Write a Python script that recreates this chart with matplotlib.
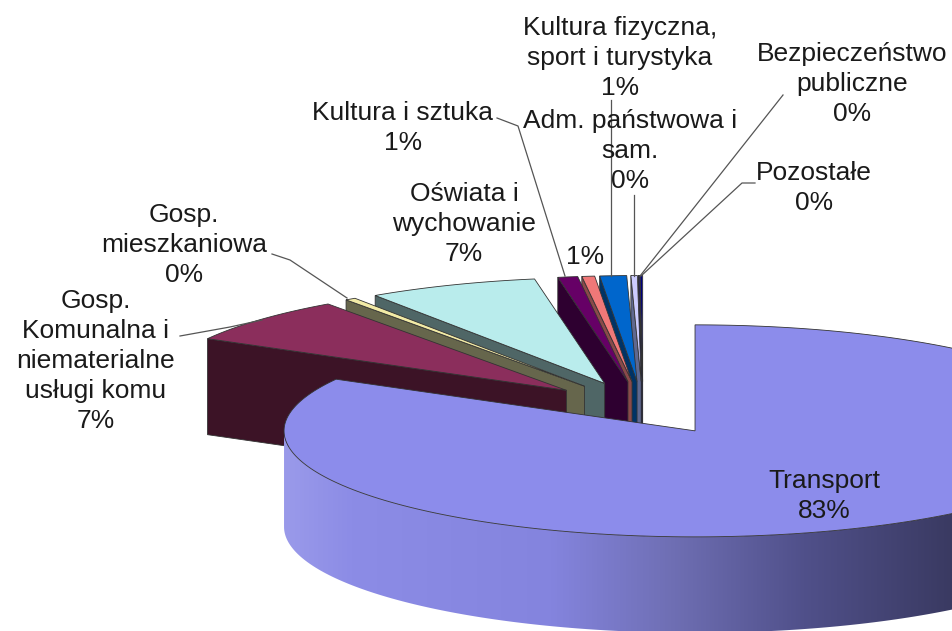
import numpy as np
import matplotlib
matplotlib.use("Agg")
import matplotlib.pyplot as plt
from matplotlib.patches import Polygon
from matplotlib.colors import LinearSegmentedColormap

plt.rcParams['font.family'] = ['Liberation Sans', 'DejaVu Sans']

# clockwise from 12 o'clock
names = ["Transport", "Gosp.\nKomunalna i\nniematerialne\nusługi komu", "Gosp.\nmieszkaniowa",
         "Oświata i\nwychowanie", "Kultura i sztuka", "", "Kultura fizyczna,\nsport i turystyka",
         "Adm. państwowa i\nsam.", "Bezpieczeństwo\npubliczne", "Pozostałe"]
values = [83.1, 7.05, 0.42, 6.7, 0.78, 0.5, 1.05, 0.25, 0.05, 0.1]
percent_labels = [83, 7, 0, 7, 1, 1, 1, 0, 0, 0]
top_colors = ["#8c8ceb", "#8b2e5c", "#f2eba6", "#b9ecec", "#660066", "#f07878", "#0066cc",
              "#ccccff", "#000080", "#000080"]
face_colors = ["#8c8ceb", "#3c1326", "#66664c", "#4f6666", "#2e0030", "#8a4a4a", "#003366",
               "#5f6890", "#00003a", "#00003a"]

# label centres in pixels (x, y of the middle of the block)
label_pos = [(824, 496), (96, 361), (184, 245), (464, 224), (403, 128), (585, 257), (620, 58),
             (630, 151), (852, 84), (814, 188)]

# leader lines in pixels
leaders = [[(180, 336), (230, 327), (262, 320)],
           [(272, 254), (290, 260), (347, 298)],
           [(497, 118), (518, 126), (565, 276)],
           [(611, 100), (611, 276)],
           [(634, 195), (634, 276)],
           [(783, 95), (640, 276)],
           [(755, 183), (742, 183), (641, 276)]]

# pie geometry in pixels
cx, cy = 643, 408
rx, ry = 411, 106
depth = 96
explode = 0.25

fig = plt.figure(figsize=(9.52, 6.31), dpi=100)
ax = fig.add_axes([0, 0, 1, 1])


def pt(t, r=1.0, x0=0, y0=0):
    return x0 + r * rx * np.sin(t), y0 - r * ry * np.cos(t)


angles = np.cumsum([0] + values) / sum(values) * 2 * np.pi
apexes = []
for i in range(len(values)):
    mid = (angles[i] + angles[i + 1]) / 2
    apexes.append(pt(mid, explode, cx, cy))

outline = dict(edgecolor="#333333", linewidth=0.6)

# small slices first, back to front, transport goes last
for i in range(len(values) - 1, 0, -1):
    ax0, ay0 = apexes[i]
    t0, t1 = angles[i], angles[i + 1]
    ex, ey = pt(t0, 1.0, ax0, ay0)
    ax.add_patch(Polygon([(ax0, ay0), (ex, ey), (ex, ey + depth), (ax0, ay0 + depth)],
                         facecolor=face_colors[i], zorder=2 + (10 - i), **outline))
    ts = np.linspace(t0, t1, 40)
    arc = np.column_stack(pt(ts, 1.0, ax0, ay0))
    ax.add_patch(Polygon(np.vstack([[(ax0, ay0)], arc]), facecolor=top_colors[i],
                         zorder=2 + (10 - i), **outline))

# transport: wall with gradient, then the top
ax0, ay0 = apexes[0]
ts = np.linspace(np.pi / 2, 3 * np.pi / 2, 200)
wx, wy = pt(ts, 1.0, ax0, ay0)
wall = np.vstack([np.column_stack([wx, wy]), np.column_stack([wx[::-1], wy[::-1] + depth])])
wall_patch = Polygon(wall, facecolor="none", edgecolor="none", zorder=21)
ax.add_patch(wall_patch)
wall_cmap = LinearSegmentedColormap.from_list(
    "wall", [(0, "#9a9aea"), (0.1, "#8c8ce6"), (0.4, "#8484de"), (0.58, "#6f6fb4"),
             (0.78, "#50508a"), (1, "#3a3a62")])
im = ax.imshow(np.linspace(0, 1, 256).reshape(1, -1), cmap=wall_cmap, aspect="auto",
               extent=[284, 952, 631, 431], zorder=20)
im.set_clip_path(wall_patch)

ts = np.linspace(angles[0], angles[1], 300)
arc = np.column_stack(pt(ts, 1.0, ax0, ay0))
ax.add_patch(Polygon(np.vstack([[(ax0, ay0)], arc]), facecolor=top_colors[0], zorder=22, **outline))

# leaders
for line in leaders:
    xs, ys = zip(*line)
    ax.plot(xs, ys, color="#555555", linewidth=0.9, zorder=25)

# labels
for name, pct, (lx, ly) in zip(names, percent_labels, label_pos):
    txt = f"{name}\n{pct}%" if name else f"{pct}%"
    ax.text(lx, ly, txt, ha="center", va="center", fontsize=19, color="#1a1a1a",
            linespacing=1.32, zorder=30)

ax.set_xlim(0, 952)
ax.set_ylim(631, 0)
ax.axis("off")
fig.savefig("out.png", dpi=100, facecolor="white")
